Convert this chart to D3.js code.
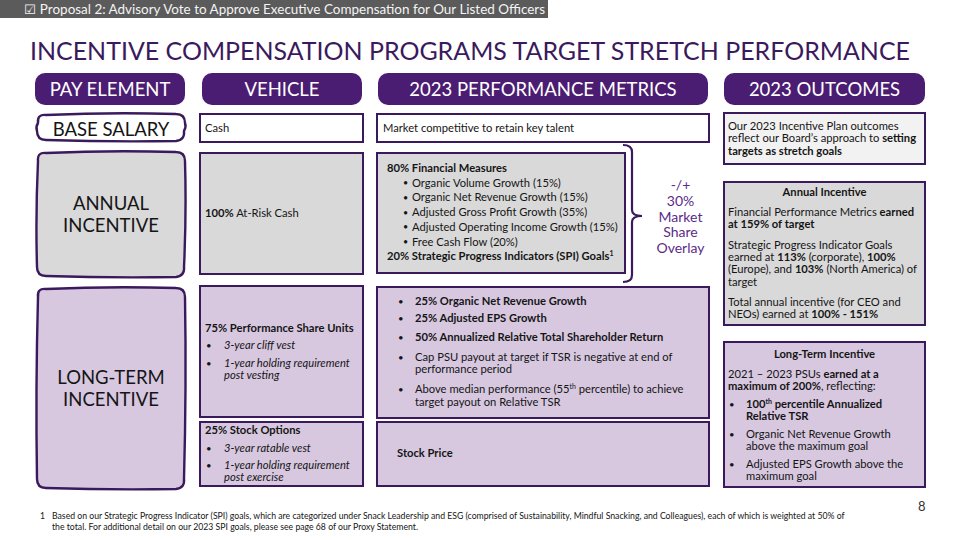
<!DOCTYPE html>
<html><head><meta charset="utf-8">
<script src="https://cdn.jsdelivr.net/npm/d3@7"></script>
<style>body{margin:0;background:#fff}svg{display:block}text{font-family:Lato,'Open Sans',sans-serif}</style>
</head><body><svg id="c" width="960" height="540"></svg>
<script>
// ---------------- data (text content) ----------------
const proposalLabel = "☑ Proposal 2: Advisory Vote to Approve Executive Compensation for Our Listed Officers";
const slideTitle = "INCENTIVE COMPENSATION PROGRAMS TARGET STRETCH PERFORMANCE";
const columnHeaders = ["PAY ELEMENT", "VEHICLE", "2023 PERFORMANCE METRICS", "2023 OUTCOMES"];
const payElements = [["BASE SALARY"], ["ANNUAL", "INCENTIVE"], ["LONG-TERM", "INCENTIVE"]];
const vehicles = [
  [{lines: ["Cash"]}],
  [{lines: ["**100%** At-Risk Cash"]}],
  [{lines: ["**75% Performance Share Units**"]}, {bullet: true, lines: ["_3-year cliff vest_"]}, {bullet: true, lines: ["_1-year holding requirement_", "_post vesting_"]}],
  [{lines: ["**25% Stock Options**"]}, {bullet: true, lines: ["_3-year ratable vest_"]}, {bullet: true, lines: ["_1-year holding requirement_", "_post exercise_"]}]
];
const metrics = [
  [{lines: ["Market competitive to retain key talent"]}],
  [{lines: ["**80% Financial Measures**"]},
   {bullet: true, lines: ["Organic Volume Growth (15%)"]},
   {bullet: true, lines: ["Organic Net Revenue Growth (15%)"]},
   {bullet: true, lines: ["Adjusted Gross Profit Growth (35%)"]},
   {bullet: true, lines: ["Adjusted Operating Income Growth (15%)"]},
   {bullet: true, lines: ["Free Cash Flow (20%)"]},
   {lines: ["**20% Strategic Progress Indicators (SPI) Goals^1^**"]}],
  [{bullet: true, lines: ["**25% Organic Net Revenue Growth**"]},
   {bullet: true, lines: ["**25% Adjusted EPS Growth**"]},
   {bullet: true, lines: ["**50% Annualized Relative Total Shareholder Return**"]},
   {bullet: true, lines: ["Cap PSU payout at target if TSR is negative at end of", "performance period"]},
   {bullet: true, lines: ["Above median performance (55^th^ percentile) to achieve", "target payout on Relative TSR"]}],
  [{lines: ["**Stock Price**"]}]
];
const overlayLabel = ["-/+", "30%", "Market", "Share", "Overlay"];
const outcomes = [
  [{lines: ["Our 2023 Incentive Plan outcomes", "reflect our Board’s approach to **setting**", "**targets as stretch goals**"]}],
  [{center: true, lines: ["**Annual Incentive**"]},
   {lines: ["Financial Performance Metrics **earned**", "**at 159% of target**"]},
   {lines: ["Strategic Progress Indicator Goals", "earned at **113%** (corporate), **100%**", "(Europe), and **103%** (North America) of", "target"]},
   {lines: ["Total annual incentive (for CEO and", "NEOs) earned at **100% - 151%**"]}],
  [{center: true, lines: ["**Long-Term Incentive**"]},
   {lines: ["2021 – 2023 PSUs **earned at a**", "**maximum of 200%**, reflecting:"]},
   {bullet: true, lines: ["**100^th^ percentile Annualized**", "**Relative TSR**"]},
   {bullet: true, lines: ["Organic Net Revenue Growth", "above the maximum goal"]},
   {bullet: true, lines: ["Adjusted EPS Growth above the", "maximum goal"]}]
];
const footnoteMark = "1";
const footnoteLines = [
  "Based on our Strategic Progress Indicator (SPI) goals, which are categorized under Snack Leadership and ESG (comprised of Sustainability, Mindful Snacking, and Colleagues), each of which is weighted at 50% of",
  "the total. For additional detail on our 2023 SPI goals, please see page 68 of our Proxy Statement."
];
const pageNumber = "8";

// ---------------- styles & layout ----------------
const PURPLE = "#4b1d72", DARK = "#3a1a5c", INK = "#151515", GRAY = "#d9d9d9", LILAC = "#d7c8e0", PALE = "#f2f2f2";
const BODY = 11.2;
const svg = d3.select("#c");

const pillX = d3.scaleOrdinal().domain(columnHeaders).range([[35, 185], [202, 362], [378, 708], [724, 925]]);

const payBoxes = [
  {x: 37, y: 114, w: 148, h: 26, fill: "#fff", ty: [136]},
  {x: 37, y: 152, w: 148, h: 124, fill: GRAY, ty: [210, 232]},
  {x: 37, y: 288, w: 148, h: 200, fill: LILAC, ty: [384, 406]}
];
const vehBoxes = [
  {x: 200, y: 114, w: 163, h: 28, fill: "#fff", spec: {x: 205, y0: 131.5}},
  {x: 200, y: 153, w: 163, h: 121, fill: GRAY, spec: {x: 205, y0: 216.5}},
  {x: 200, y: 286, w: 163, h: 131, fill: LILAC, spec: {x: 205, bx: 206, tx: 224, y0: 331.5, lh: 12.2, gaps: [0, 5.3, 5.8]}},
  {x: 200, y: 422, w: 163, h: 64, fill: LILAC, spec: {x: 205, bx: 206, tx: 224, y0: 434, lh: 12.2, gaps: [0, 5.3, 5.3]}}
];
const metBoxes = [
  {x: 377, y: 114, w: 332, h: 28, fill: "#fff", spec: {x: 383, y0: 131.5}},
  {x: 377, y: 153, w: 248, h: 120, fill: GRAY, spec: {x: 387, bx: 403, tx: 412, y0: 172, lh: 14.7, small: true}},
  {x: 377, y: 287, w: 332, h: 131, fill: LILAC, spec: {x: 399, bx: 398, tx: 415, y0: 305, lh: 12.3, gaps: [0, 5, 6, 7.7, 8]}},
  {x: 377, y: 422, w: 332, h: 64, fill: LILAC, spec: {x: 397, y0: 457}}
];
const outBoxes = [
  {x: 724, y: 113, w: 201, h: 51, fill: PALE, spec: {x: 728, y0: 130, lh: 12.3}},
  {x: 724, y: 182, w: 201, h: 143, fill: GRAY, spec: {x: 728, cx: 824.5, y0: 196, lh: 12.2, gaps: [0, 7.8, 8.6, 8.2]}},
  {x: 724, y: 342, w: 201, h: 145, fill: LILAC, spec: {x: 728, bx: 729, tx: 746, cx: 824.5, y0: 357.5, lh: 12, gaps: [0, 8.5, 6, 6, 5.5]}}
];

// ---------------- helpers ----------------
function parseRuns(s) {
  const parts = s.split(/(\*\*|\^|_)/);
  let b = false, i = false, sup = false;
  const runs = [];
  for (const p of parts) {
    if (p === "**") { b = !b; continue; }
    if (p === "^") { sup = !sup; continue; }
    if (p === "_") { i = !i; continue; }
    if (p) runs.push({t: p, b, i, sup});
  }
  return runs;
}
function addRuns(textSel, s, size) {
  let shifted = false;
  parseRuns(s).forEach(r => {
    const ts = textSel.append("tspan").text(r.t)
      .attr("font-weight", r.b ? 700 : 400)
      .attr("font-style", r.i ? "italic" : "normal");
    if (r.sup) { ts.attr("font-size", size * 0.62).attr("dy", -size * 0.38); shifted = true; }
    else if (shifted) { ts.attr("dy", size * 0.38); shifted = false; }
  });
}
function drawBlock(g, paras, spec) {
  const lh = spec.lh || 12.3;
  let y = spec.y0;
  paras.forEach((p, pi) => {
    if (pi > 0) y += lh + (spec.gaps ? (spec.gaps[pi] || 0) : 0);
    p.lines.forEach((ln, li) => {
      if (li > 0) y += lh;
      if (p.bullet && li === 0) {
        g.append("text").attr("x", spec.bx).attr("y", y - (spec.small ? 0.5 : 0))
          .attr("font-size", spec.small ? BODY * 0.8 : BODY * 0.85).attr("fill", INK).text("•");
      }
      const x = p.center ? spec.cx : (p.bullet ? spec.tx : spec.x);
      const t = g.append("text").attr("x", x).attr("y", y)
        .attr("font-size", BODY).attr("fill", INK)
        .attr("text-anchor", p.center ? "middle" : "start");
      addRuns(t, ln, BODY);
    });
  });
}
function sketchPath(b) {
  const {x, y, w, h} = b, r = 9;
  const p = d3.path();
  p.moveTo(x + r, y + 1);
  p.quadraticCurveTo(x + w / 2, y - 2, x + w - r, y);
  p.quadraticCurveTo(x + w, y, x + w, y + r);
  p.quadraticCurveTo(x + w + 1.5, y + h / 2, x + w - 1, y + h - r);
  p.quadraticCurveTo(x + w, y + h, x + w - r, y + h + 1);
  p.quadraticCurveTo(x + w / 2, y + h + 2, x + r, y + h);
  p.quadraticCurveTo(x, y + h, x, y + h - r);
  p.quadraticCurveTo(x - 1.5, y + h / 2, x + 1, y + r);
  p.quadraticCurveTo(x, y, x + r, y + 1);
  p.closePath();
  return p.toString();
}

// ---------------- top bar & title ----------------
svg.append("rect").attr("x", 0).attr("y", 0).attr("width", 548).attr("height", 18).attr("fill", "#5b5b5b");
svg.append("text").attr("x", 24).attr("y", 14).attr("font-size", 13).attr("fill", "#f4f4f4")
  .attr("textLength", 521).attr("lengthAdjust", "spacingAndGlyphs").text(proposalLabel);
svg.append("text").attr("x", 30).attr("y", 59.5).attr("font-size", 25).attr("fill", DARK)
  .attr("textLength", 880).attr("lengthAdjust", "spacingAndGlyphs").text(slideTitle);

// ---------------- column header pills ----------------
const pills = svg.append("g").selectAll("g").data(columnHeaders).join("g");
pills.append("rect")
  .attr("x", d => pillX(d)[0]).attr("y", 73)
  .attr("width", d => pillX(d)[1] - pillX(d)[0]).attr("height", 32)
  .attr("rx", 10).attr("fill", PURPLE);
pills.append("text")
  .attr("x", d => (pillX(d)[0] + pillX(d)[1]) / 2).attr("y", 96)
  .attr("text-anchor", "middle").attr("font-size", 18.5).attr("fill", "#fff").text(d => d);

// ---------------- pay element (sketch boxes) ----------------
const pay = svg.append("g").selectAll("g").data(payBoxes).join("g");
pay.append("path").attr("d", d => sketchPath(d)).attr("fill", d => d.fill)
  .attr("stroke", DARK).attr("stroke-width", 2.4).attr("stroke-linejoin", "round");
pay.each(function (d, i) {
  const g = d3.select(this);
  payElements[i].forEach((ln, li) => {
    g.append("text").attr("x", d.x + d.w / 2).attr("y", d.ty[li])
      .attr("text-anchor", "middle").attr("font-size", 18.5).attr("fill", INK).text(ln);
  });
});

// ---------------- rectangular boxes ----------------
function drawColumn(boxes, content) {
  const g = svg.append("g").selectAll("g").data(boxes).join("g");
  g.append("rect").attr("x", d => d.x).attr("y", d => d.y)
    .attr("width", d => d.w).attr("height", d => d.h)
    .attr("fill", d => d.fill).attr("stroke", DARK).attr("stroke-width", 2);
  g.each(function (d, i) { drawBlock(d3.select(this), content[i], d.spec); });
}
drawColumn(vehBoxes, vehicles);
drawColumn(metBoxes, metrics);
drawColumn(outBoxes, outcomes);

// ---------------- brace & overlay ----------------
const bp = d3.path();
bp.moveTo(623, 145);
bp.quadraticCurveTo(632, 145, 632, 152);
bp.lineTo(632, 210);
bp.quadraticCurveTo(632, 216, 642, 216);
bp.quadraticCurveTo(632, 216, 632, 222);
bp.lineTo(632, 275);
bp.quadraticCurveTo(632, 282, 623, 282);
svg.append("path").attr("d", bp.toString()).attr("fill", "none").attr("stroke", DARK).attr("stroke-width", 2.2);
svg.append("g").selectAll("text").data(overlayLabel).join("text")
  .attr("x", 680.5).attr("y", (d, i) => 190 + i * 15.8)
  .attr("text-anchor", "middle").attr("font-size", 14).attr("fill", "#5b2b8a").text(d => d);

// ---------------- footnote & page number ----------------
svg.append("text").attr("x", 40).attr("y", 518.5).attr("font-size", 8.6).attr("fill", INK).text(footnoteMark);
const fn = svg.append("g").selectAll("text").data(footnoteLines).join("text")
  .attr("x", 52).attr("y", (d, i) => 518.5 + i * 11)
  .attr("font-size", 8.6).attr("fill", INK).text(d => d);
// fit footnote to the reference width
const natural = fn.nodes()[0].getComputedTextLength();
const fs = 8.6 * 794 / natural;
fn.attr("font-size", fs);
svg.append("text").attr("x", 918).attr("y", 511).attr("font-size", 13).attr("fill", "#333").text(pageNumber);
</script></body></html>
